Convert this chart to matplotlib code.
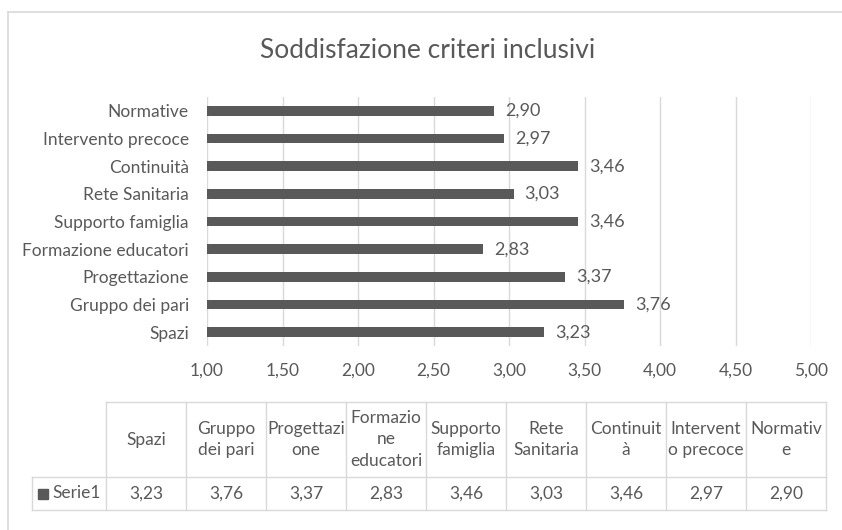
import matplotlib.pyplot as plt
from matplotlib.patches import Rectangle

# dati del grafico
categorie = ['Spazi', 'Gruppo dei pari', 'Progettazione', 'Formazione educatori',
             'Supporto famiglia', 'Rete Sanitaria', 'Continuità',
             'Intervento precoce', 'Normative']
valori = [3.23, 3.76, 3.37, 2.83, 3.46, 3.03, 3.46, 2.97, 2.90]
# intestazioni della tabella dati, spezzate come nell'originale
intestazioni = ['Spazi', 'Gruppo\ndei pari', 'Progettazi\none', 'Formazio\nne\neducatori',
                'Supporto\nfamiglia', 'Rete\nSanitaria', 'Continuit\nà',
                'Intervent\no precoce', 'Normativ\ne']
serie = 'Serie1'
tick_x = [1.00, 1.50, 2.00, 2.50, 3.00, 3.50, 4.00, 4.50, 5.00]
titolo = 'Soddisfazione criteri inclusivi'

plt.rcParams['font.family'] = ['Lato', 'DejaVu Sans']

GRIGIO = '#595959'
LINEA = '#d9d9d9'
W, H = 842, 530
FS = 12.5


def virgola(v):
    return f'{v:.2f}'.replace('.', ',')


fig = plt.figure(figsize=(W / 100, H / 100), dpi=100)

# livello di sfondo in pixel per bordo e tabella
tab = fig.add_axes([0, 0, 1, 1], zorder=0)
tab.set_xlim(0, W)
tab.set_ylim(H, 0)
tab.axis('off')
tab.plot([8, 8], [12, H], color=LINEA, lw=1.2)
tab.plot([8, W], [12, 12], color=LINEA, lw=1.2)

# grafico a barre
ax = fig.add_axes([207 / W, 1 - 346 / H, (811 - 207) / W, (346 - 97) / H], zorder=1)
ax.patch.set_alpha(0)
pos = range(len(categorie))
ax.barh(pos, valori, height=0.36, color=GRIGIO)
ax.set_xlim(1, 5)
ax.set_ylim(-0.5, len(categorie) - 0.5)
ax.set_xticks(tick_x)
ax.set_xticklabels([virgola(t) for t in tick_x])
ax.set_yticks(list(pos))
ax.set_yticklabels(categorie)
ax.tick_params(axis='both', length=0, colors=GRIGIO, labelsize=FS)
ax.tick_params(axis='x', pad=12)
ax.tick_params(axis='y', pad=13)
ax.xaxis.grid(True, color=LINEA, lw=1)
ax.set_axisbelow(True)
for s in ax.spines.values():
    s.set_visible(False)

for i, v in enumerate(valori):
    ax.annotate(virgola(v), xy=(v, i), xytext=(8, 0), textcoords='offset points',
                ha='left', va='center', color=GRIGIO, fontsize=FS + 0.5)

fig.text(428 / W, 1 - 50 / H, titolo, ha='center', va='center',
         color=GRIGIO, fontsize=19)

# tabella dati sotto il grafico
x0, cw = 106, 80
top, mid, bot, key_x = 402, 477, 510, 32
n = len(categorie)
tab.plot([x0, x0 + n * cw], [top, top], color=LINEA, lw=1)
tab.plot([key_x, x0 + n * cw], [mid, mid], color=LINEA, lw=1)
tab.plot([key_x, x0 + n * cw], [bot, bot], color=LINEA, lw=1)
tab.plot([key_x, key_x], [mid, bot], color=LINEA, lw=1)
for k in range(n + 1):
    tab.plot([x0 + k * cw] * 2, [top, bot], color=LINEA, lw=1)
for k in range(n):
    cx = x0 + (k + 0.5) * cw
    tab.text(cx, (top + mid) / 2, intestazioni[k], ha='center', va='center',
             color=GRIGIO, fontsize=FS, linespacing=1.45)
    tab.text(cx, (mid + bot) / 2, virgola(valori[k]), ha='center', va='center',
             color=GRIGIO, fontsize=FS)
tab.add_patch(Rectangle((38, 488.5), 10, 10, color=GRIGIO))
tab.text(52, (mid + bot) / 2, serie, ha='left', va='center', color=GRIGIO, fontsize=FS)

fig.savefig('out.png', dpi=100)
